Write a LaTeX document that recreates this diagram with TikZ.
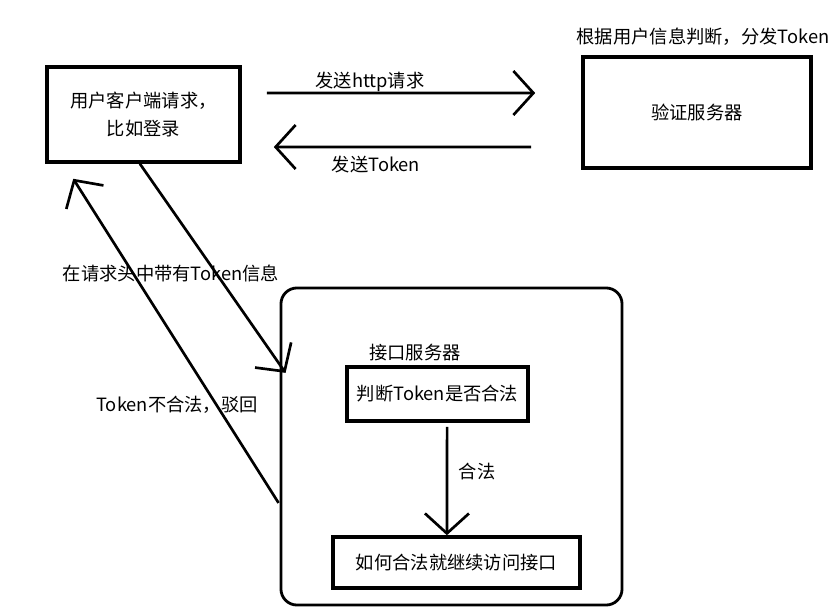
\documentclass[tikz,border=0pt]{standalone}
\usepackage{fontspec}
\setmainfont{Noto Sans CJK SC}
\usetikzlibrary{arrows.meta}
\tikzset{
   every node/.style={font=\fontsize{13}{20}\selectfont, text=black},
   serverbox/.style={draw=black, line width=2.5pt, align=center, inner sep=0pt},
   groupbox/.style={draw=black, line width=2pt, rounded corners=0.4cm, inner sep=0pt},
   flow/.style={line width=1.9pt, -{Straight Barb[length=5mm,width=11mm,line width=1.9pt]}},
   note/.style={inner sep=0pt}
}

\begin{document}
\begin{tikzpicture}[x=0.025cm,y=-0.025cm]
\useasboundingbox (0,0) rectangle (840,610);

% client and token server
\node[serverbox, minimum width=4.825cm, minimum height=2.375cm] (client) at (143.5,114.5) {用户客户端请求，\\比如登录};
\node[serverbox, minimum width=5.7cm, minimum height=2.775cm] (auth) at (697,112.5) {验证服务器};
\node[note] (authnote) at (703,37) {根据用户信息判断，分发Token};

% interface server
\node[groupbox, minimum width=8.525cm, minimum height=7.925cm] (iface) at (451.5,446.5) {};
\node[note] (ifacelbl) at (415,353) {接口服务器};
\node[serverbox, minimum width=4.525cm, minimum height=1.35cm] (check) at (437.5,394) {判断Token是否合法};
\node[serverbox, minimum width=6.175cm, minimum height=1.275cm] (access) at (456.5,562.5) {如何合法就继续访问接口};

% labels
\node[note] (reqlbl) at (370,82) {发送http请求};
\node[note] (toklbl) at (376,165) {发送Token};
\node[note] (hdrlbl) at (171,273) {在请求头中带有Token信息};
\node[note] (rejlbl) at (177,405) {Token不合法，驳回};
\node[note] (oklbl) at (477,472) {合法};

\path[flow]
([yshift=0.5375cm]client.east) edge[shorten <=0.625cm, shorten >=1.15cm] ([yshift=0.4875cm]auth.west)
([yshift=-0.8625cm]auth.west) edge[shorten <=1.25cm, shorten >=0.8cm] ([yshift=-0.8125cm]client.east)
([xshift=-0.09cm]client.south) edge ([shift={(0.15cm,1.84cm)}]iface.west)
([shift={(-0.025cm,-1.41cm)}]iface.west) edge ([shift={(0.7cm,-0.375cm)}]client.south west)
([yshift=-0.1cm,xshift=0.24cm]check.south) edge ([xshift=-0.24cm]access.north)
;

\end{tikzpicture}
\end{document}
